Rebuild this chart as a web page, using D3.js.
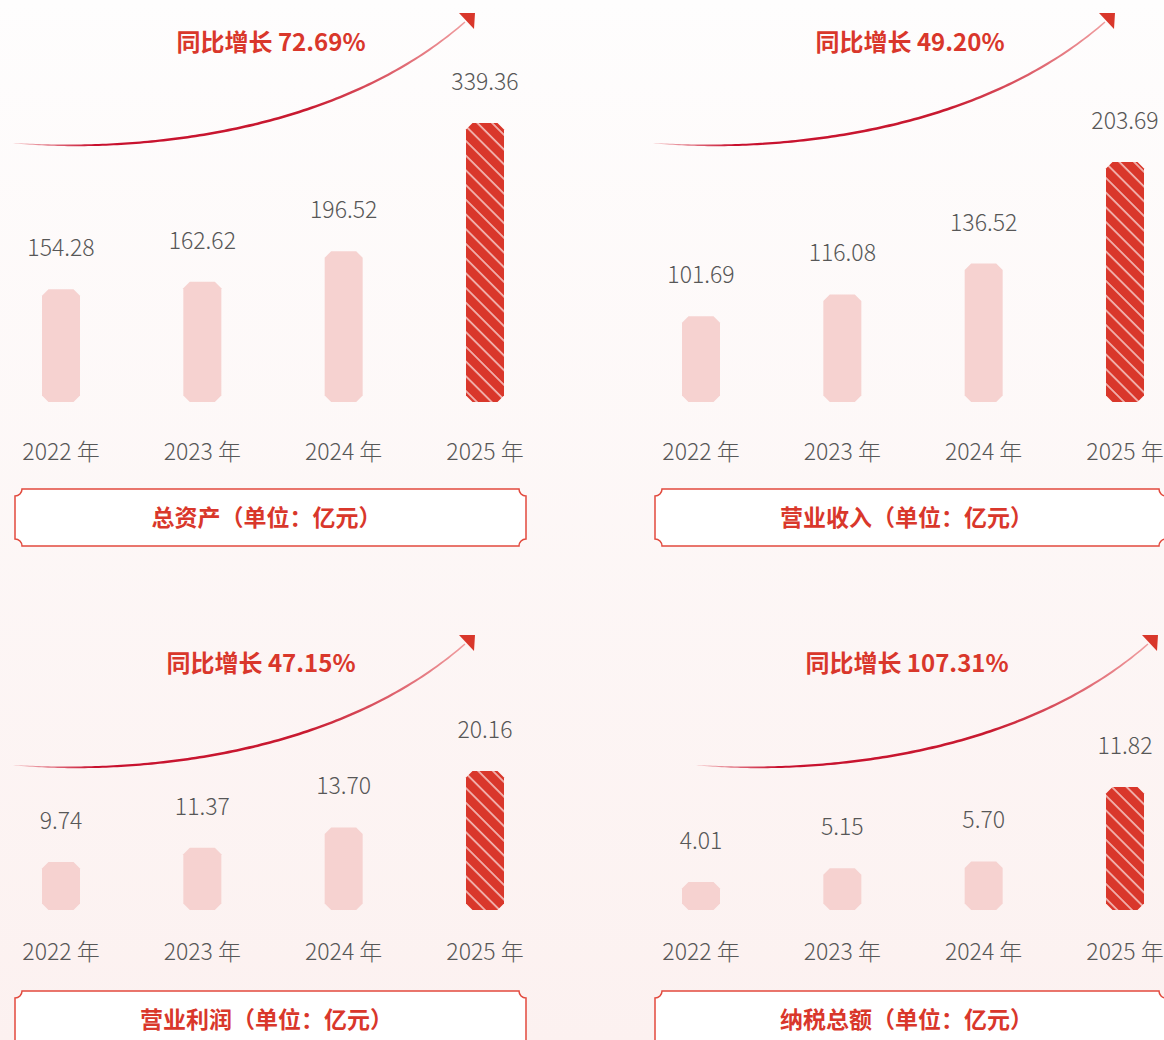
<!DOCTYPE html>
<html>
<head>
<meta charset="utf-8">
<script src="https://cdn.jsdelivr.net/npm/d3@7"></script>
<style>
  html, body { margin: 0; padding: 0; background: #fdf9f8; }
  svg { display: block; font-family: "Noto Sans CJK SC", "Noto Sans", sans-serif; }
</style>
</head>
<body>
<div id="chart"></div>
<script>
// data
const years = ['2022 年', '2023 年', '2024 年', '2025 年'];
const totalAssets = [154.28, 162.62, 196.52, 339.36];
const revenue = [101.69, 116.08, 136.52, 203.69];
const operatingProfit = [9.74, 11.37, 13.70, 20.16];
const taxPaid = [4.01, 5.15, 5.70, 11.82];
const titles = ['总资产（单位：亿元）', '营业收入（单位：亿元）', '营业利润（单位：亿元）', '纳税总额（单位：亿元）'];
const growthLabels = ['同比增长 72.69%', '同比增长 49.20%', '同比增长 47.15%', '同比增长 107.31%'];

const width = 1164, height = 1040;
const red = '#d9372b', pink = '#f6d2d0', grey = '#575757';

const rows = [
  { growthY: 51, arrowY: 143, base: 402, yearY: 460, boxY: 489 },
  { growthY: 672, arrowY: 765, base: 910, yearY: 960, boxY: 991 }
];

const panels = [
  { values: totalAssets, title: titles[0], growth: growthLabels[0], row: rows[0], left: 0, lo: 28.6, maxH: 279, growthX: 271, arrowX: 13 },
  { values: revenue, title: titles[1], growth: growthLabels[1], row: rows[0], left: 640, lo: 45, maxH: 240, growthX: 910, arrowX: 653 },
  { values: operatingProfit, title: titles[2], growth: growthLabels[2], row: rows[1], left: 0, lo: 4.24, maxH: 139, growthX: 261, arrowX: 13 },
  { values: taxPaid, title: titles[3], growth: growthLabels[3], row: rows[1], left: 640, lo: 1.71, maxH: 123, growthX: 907, arrowX: 696 }
];

const svg = d3.select('#chart').append('svg')
  .attr('width', width)
  .attr('height', height);

const defs = svg.append('defs');

const bg = defs.append('linearGradient').attr('id', 'bg')
  .attr('x1', 0).attr('y1', 0).attr('x2', 0).attr('y2', 1);
bg.append('stop').attr('offset', '0%').attr('stop-color', '#fefdfd');
bg.append('stop').attr('offset', '100%').attr('stop-color', '#fcf1f0');

const arrowGrad = defs.append('linearGradient').attr('id', 'arrowGrad')
  .attr('x1', 0).attr('y1', 0).attr('x2', 1).attr('y2', 0);
[['0%', '#f6c9cb'], ['18%', '#c8102e'], ['65%', '#c81a30'], ['100%', '#f09ea0']].forEach(s =>
  arrowGrad.append('stop').attr('offset', s[0]).attr('stop-color', s[1]));

const hatch = defs.append('pattern').attr('id', 'hatch')
  .attr('patternUnits', 'userSpaceOnUse')
  .attr('width', 10.4).attr('height', 10.4)
  .attr('patternTransform', 'rotate(-45)');
hatch.append('rect').attr('width', 10.4).attr('height', 10.4).attr('fill', red);
hatch.append('line')
  .attr('x1', 1).attr('y1', 0).attr('x2', 1).attr('y2', 10.4)
  .attr('stroke', '#fbe3e1').attr('stroke-width', 1.3);

svg.append('rect')
  .attr('width', width).attr('height', height)
  .attr('fill', 'url(#bg)');

// octagon bar with chamfered corners
function barPath(x, y, w, b) {
  const c = 6.5;
  return `M${x + c},${y}L${x + w - c},${y}L${x + w},${y + c}L${x + w},${b - c}` +
    `L${x + w - c},${b}L${x + c},${b}L${x},${b - c}L${x},${y + c}Z`;
}

// box with concave corners
function boxPath(x, y, w, h) {
  const r = 7;
  return `M${x + r},${y}L${x + w - r},${y}A${r},${r} 0 0 0 ${x + w},${y + r}` +
    `L${x + w},${y + h - r}A${r},${r} 0 0 0 ${x + w - r},${y + h}` +
    `L${x + r},${y + h}A${r},${r} 0 0 0 ${x},${y + h - r}` +
    `L${x},${y + r}A${r},${r} 0 0 0 ${x + r},${y}Z`;
}

function cubic(p, t) {
  const u = 1 - t;
  return [
    u * u * u * p[0][0] + 3 * u * u * t * p[1][0] + 3 * u * t * t * p[2][0] + t * t * t * p[3][0],
    u * u * u * p[0][1] + 3 * u * u * t * p[1][1] + 3 * u * t * t * p[2][1] + t * t * t * p[3][1]
  ];
}

function drawArrow(g, x0, y0) {
  const pts = [[x0, y0], [x0 + 107, y0 + 9], [x0 + 317, y0 - 3], [x0 + 452, y0 - 121]];
  const n = 120, side1 = [], side2 = [];
  for (let i = 0; i <= n; i++) {
    const t = i / n;
    const a = cubic(pts, Math.max(0, t - 0.001)), b = cubic(pts, Math.min(1, t + 0.001));
    const dx = b[0] - a[0], dy = b[1] - a[1], len = Math.hypot(dx, dy);
    const nx = -dy / len, ny = dx / len;
    const w = (0.2 + 2.4 * Math.pow(Math.sin(Math.PI * t * 0.88), 0.6)) / 2;
    const p = cubic(pts, t);
    side1.push([p[0] + nx * w, p[1] + ny * w]);
    side2.push([p[0] - nx * w, p[1] - ny * w]);
  }
  g.append('path')
    .attr('d', d3.line()(side1.concat(side2.reverse())) + 'Z')
    .attr('fill', 'url(#arrowGrad)');

  g.append('path')
    .attr('d', `M${x0 + 446},${y0 - 130}L${x0 + 462},${y0 - 130}L${x0 + 461},${y0 - 114}Z`)
    .attr('fill', red);
}

panels.forEach(p => {
  const g = svg.append('g');
  const row = p.row;

  const x = d3.scalePoint()
    .domain(years)
    .range([p.left + 61, p.left + 485]);

  const y = d3.scaleLinear()
    .domain([p.lo, d3.max(p.values)])
    .range([row.base, row.base - p.maxH]);

  const barW = 38;
  const data = years.map((yr, i) => ({ year: yr, value: p.values[i], last: i === years.length - 1 }));

  drawArrow(g, p.arrowX, row.arrowY);

  g.append('text')
    .attr('x', p.growthX)
    .attr('y', row.growthY)
    .attr('text-anchor', 'middle')
    .style('font-size', '24px')
    .style('font-weight', 700)
    .style('fill', red)
    .text(p.growth);

  g.selectAll('.bar')
    .data(data)
    .enter()
    .append('path')
    .attr('class', 'bar')
    .attr('d', d => barPath(x(d.year) - barW / 2, y(d.value), barW, row.base))
    .attr('fill', d => d.last ? 'url(#hatch)' : pink);

  g.selectAll('.value')
    .data(data)
    .enter()
    .append('text')
    .attr('class', 'value')
    .attr('x', d => x(d.year))
    .attr('y', d => y(d.value) - 33)
    .attr('text-anchor', 'middle')
    .style('font-size', '23px')
    .style('font-weight', 300)
    .style('fill', grey)
    .text(d => d.value.toFixed(2));

  g.selectAll('.year')
    .data(data)
    .enter()
    .append('text')
    .attr('class', 'year')
    .attr('x', d => x(d.year))
    .attr('y', row.yearY)
    .attr('text-anchor', 'middle')
    .style('font-size', '23px')
    .style('font-weight', 300)
    .style('fill', grey)
    .text(d => d.year);

  const boxX = p.left + 15, boxW = 511, boxH = 57;
  g.append('path')
    .attr('d', boxPath(boxX, row.boxY, boxW, boxH))
    .attr('fill', '#ffffff')
    .attr('stroke', '#e24a3e')
    .attr('stroke-width', 1.5);

  g.append('text')
    .attr('x', boxX + boxW / 2 - 4)
    .attr('y', row.boxY + boxH / 2 + 8)
    .attr('text-anchor', 'middle')
    .style('font-size', '23px')
    .style('font-weight', 700)
    .style('fill', red)
    .text(p.title);
});
</script>
</body>
</html>
